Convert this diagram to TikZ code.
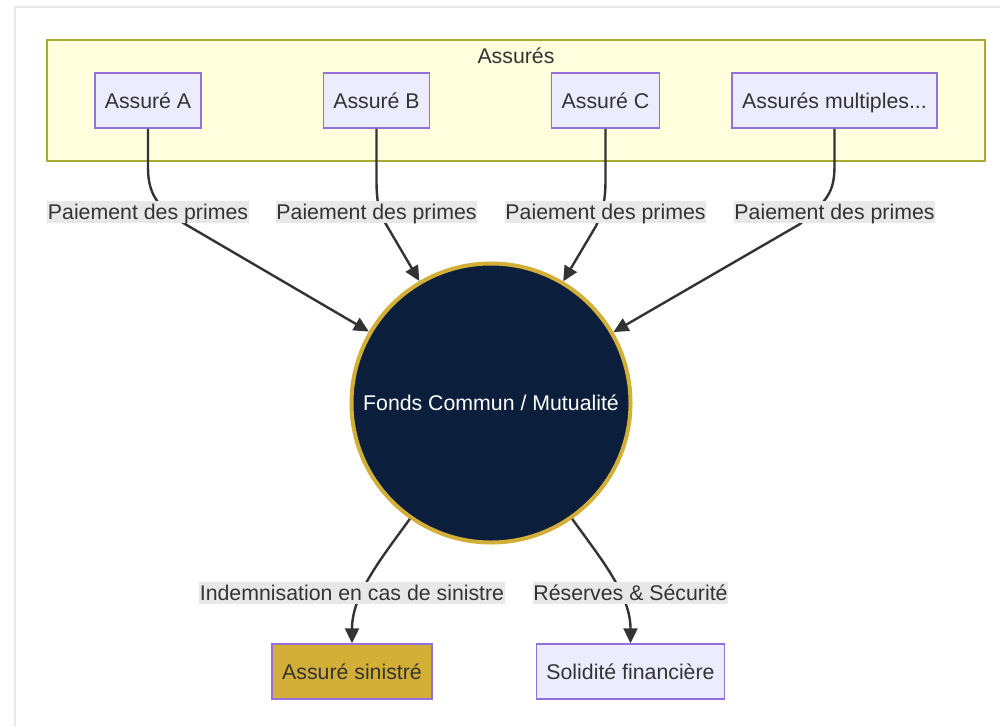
\documentclass[tikz,border=0pt]{standalone}
\usepackage{fontspec}
\setmainfont{Liberation Sans}
\usetikzlibrary{arrows.meta}
\definecolor{txt}{HTML}{333333}
\definecolor{boxfill}{HTML}{ECECFF}
\definecolor{boxline}{HTML}{9370DB}
\definecolor{clfill}{HTML}{FFFFDE}
\definecolor{clline}{HTML}{AAAA33}
\definecolor{lblbg}{HTML}{E8E8E8}
\definecolor{navy}{HTML}{0B1F3D}
\definecolor{gold}{HTML}{D4AF37}
\definecolor{frame}{HTML}{E8E8E8}
\tikzset{
  every node/.style={font=\fontsize{21.3}{25}\selectfont, text=txt},
  box/.style={draw=boxline, fill=boxfill, line width=1.5pt, minimum height=55pt, inner xsep=10pt, text height=16pt, text depth=0pt},
  lbl/.style={fill=lblbg, inner xsep=0.5pt, inner ysep=0pt, text height=18.5pt, text depth=3.5pt},
  edge/.style={draw=txt, line width=2.4pt, -{Triangle[length=15pt,width=14pt]}},
}
\begin{document}
\begin{tikzpicture}[x=1pt,y=-1pt]
\useasboundingbox (0,0) rectangle (1000,726);
\draw[frame, line width=2pt] (1000,7) -- (15,7) -- (15,726);
% cluster
\node[draw=clline, fill=clfill, line width=1.2pt, minimum width=938pt, minimum height=121pt, inner sep=0pt] (cl) at (516,100.5) {};
\node (clt) at (516,56) {Assurés};
% top nodes
\node[box] (A) at (148,100.5) {Assuré A};
\node[box] (B) at (376.5,100.5) {Assuré B};
\node[box] (C) at (605.5,100.5) {Assuré C};
\node[box] (D) at (834.5,100.5) {Assurés multiples...};
% fund
\node[circle, fill=navy, draw=gold, line width=4pt, minimum size=279pt, inner sep=0pt] (F) at (491,403) {};
\node[text=white] (Ft) at (491,403) {Fonds Commun / Mutualité};
% bottom nodes
\node[box, fill=gold] (S) at (352,671.5) {Assuré sinistré};
\node[box] (R) at (630.5,671.5) {Solidité financière};
% edges
\draw[edge] (A.south) -- (148,168) .. controls (148,198) and (162,210) .. (185,224) -- (F);
\draw[edge] (B.south) -- (376.5,180) .. controls (376.5,205) and (380,215) .. (387,226) -- (F);
\draw[edge] (C.south) -- (605.5,180) .. controls (605.5,205) and (601,215) .. (596,226) -- (F);
\draw[edge] (D.south) -- (834.5,165) .. controls (834.5,192) and (828,200) .. (800,224) -- (F);
\draw[edge] (F.-125) .. controls (380,560) and (352,595) .. (S.north);
\draw[edge] (F.-55) .. controls (602,560) and (630.5,595) .. (R.north);
% edge labels
\node[lbl] (lA) at (148,212) {Paiement des primes};
\node[lbl] (lB) at (376.5,212) {Paiement des primes};
\node[lbl] (lC) at (605.5,212) {Paiement des primes};
\node[lbl] (lD) at (834.5,212) {Paiement des primes};
\node[lbl] (lS) at (352,593) {Indemnisation en cas de sinistre};
\node[lbl] (lR) at (630.5,593) {Réserves \& Sécurité};
\end{tikzpicture}
\end{document}
